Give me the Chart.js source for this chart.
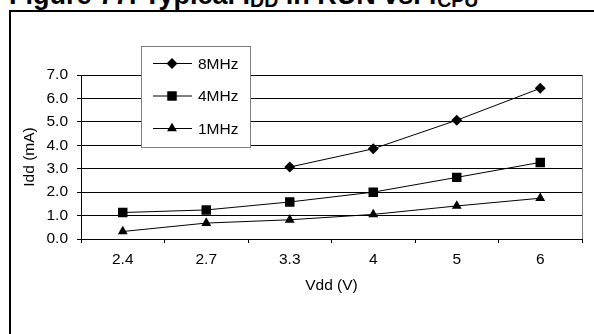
<!DOCTYPE html>
<html>
<head>
<meta charset="utf-8">
<script src="https://cdn.jsdelivr.net/npm/chart.js@4.4.0/dist/chart.umd.min.js"></script>
<style>
  html, body { margin: 0; padding: 0; background: #fff; width: 594px; height: 334px; overflow: hidden; }
  .title { position: absolute; left: 9px; top: -18px; font: bold 27px/27px "Liberation Sans", Arial, sans-serif; white-space: nowrap; color: #000; }
  .title sub { font-size: 19.5px; vertical-align: -2.5px; line-height: 0; }
  .frame { position: absolute; left: 9px; top: 10px; width: 700px; height: 400px; border-top: 2px solid #000; border-left: 2px solid #000; }
  #chart { position: absolute; left: 0; top: 0; }
</style>
</head>
<body>
<div class="title">Figure 77. Typical I<sub>DD</sub> in RUN vs. f<sub>CPU</sub></div>
<div class="frame"></div>
<canvas id="chart" width="594" height="334"></canvas>
<script>
// supply voltage categories (V)
const vddLabels = ['2.4', '2.7', '3.3', '4', '5', '6'];
// Idd (mA) per clock frequency
const idd8MHz = [null, null, 3.07, 3.85, 5.07, 6.43];
const idd4MHz = [1.13, 1.24, 1.58, 2.0, 2.63, 3.27];
const idd1MHz = [0.32, 0.68, 0.82, 1.05, 1.41, 1.74];
const seriesNames = ['8MHz', '4MHz', '1MHz'];
const yMin = 0, yMax = 7, yStep = 1;

const FONT = '"Liberation Sans", Arial, sans-serif';
Chart.defaults.font.family = FONT;
Chart.defaults.font.size = 15.5;
Chart.defaults.color = '#000';

function series(label, data, pointStyle, radius) {
    return {
        label, data, pointStyle,
        pointRadius: radius,
        pointHoverRadius: radius,
        borderColor: '#000',
        backgroundColor: '#000',
        pointBackgroundColor: '#000',
        pointBorderColor: '#000',
        pointBorderWidth: 0,
        borderWidth: 1,
        tension: 0
    };
}

// gray right edge of the plot area
const plotEdge = {
    id: 'plotEdge',
    beforeDatasetsDraw(chart) {
        const { ctx, chartArea } = chart;
        ctx.save();
        ctx.strokeStyle = '#808080';
        ctx.lineWidth = 1;
        ctx.beginPath();
        ctx.moveTo(Math.round(chartArea.right) + 0.5, chartArea.top);
        ctx.lineTo(Math.round(chartArea.right) + 0.5, chartArea.bottom);
        ctx.stroke();
        ctx.restore();
    }
};

// boxed legend sitting over the top of the plot
const boxLegend = {
    id: 'boxLegend',
    afterDraw(chart) {
        const ctx = chart.ctx;
        const box = { x: 141.5, y: 46.5, w: 109, h: 101 };
        ctx.save();
        ctx.fillStyle = '#fff';
        ctx.fillRect(box.x, box.y, box.w, box.h);
        ctx.strokeStyle = '#808080';
        ctx.lineWidth = 1;
        ctx.strokeRect(box.x, box.y, box.w, box.h);
        chart.data.datasets.forEach((ds, i) => {
            const y = 63.5 + i * 32.5;
            ctx.strokeStyle = '#000';
            ctx.beginPath();
            ctx.moveTo(153, y);
            ctx.lineTo(192, y);
            ctx.stroke();
            ctx.fillStyle = '#000';
            Chart.helpers.drawPoint(ctx, { pointStyle: ds.pointStyle, radius: ds.pointRadius, rotation: 0, borderWidth: 0 }, 172, y);
            ctx.fillStyle = '#000';
            ctx.font = '15.5px ' + FONT;
            ctx.textBaseline = 'middle';
            ctx.textAlign = 'left';
            ctx.fillText(ds.label, 198, y + 1);
        });
        ctx.restore();
    }
};

new Chart(document.getElementById('chart'), {
    type: 'line',
    data: {
        labels: vddLabels,
        datasets: [
            series(seriesNames[0], idd8MHz, 'rectRot', 5.5),
            series(seriesNames[1], idd4MHz, 'rect', 6.7),
            series(seriesNames[2], idd1MHz, 'triangle', 5.7)
        ]
    },
    options: {
        responsive: false,
        animation: false,
        layout: { padding: { top: 75, left: 0, right: 12, bottom: 35 } },
        plugins: { legend: { display: false }, tooltip: { enabled: false } },
        scales: {
            x: {
                offset: true,
                grid: { offset: true, drawOnChartArea: false, drawTicks: true, tickLength: 4, color: '#000' },
                border: { color: '#000', width: 1 },
                ticks: { padding: 7 },
                title: { display: true, text: 'Vdd (V)', padding: { top: 0, bottom: 4 } },
                afterFit(scale) { scale.height = 60; }
            },
            y: {
                min: yMin,
                max: yMax,
                ticks: { stepSize: yStep, padding: 9, callback: v => v.toFixed(1) },
                grid: { color: '#000', tickLength: 4, drawTicks: true },
                border: { color: '#000', width: 1 },
                title: { display: true, text: 'Idd (mA)', padding: { top: 20, bottom: 0 } },
                afterFit(scale) { scale.width = 81; }
            }
        }
    },
    plugins: [plotEdge, boxLegend]
});
</script>
</body>
</html>
